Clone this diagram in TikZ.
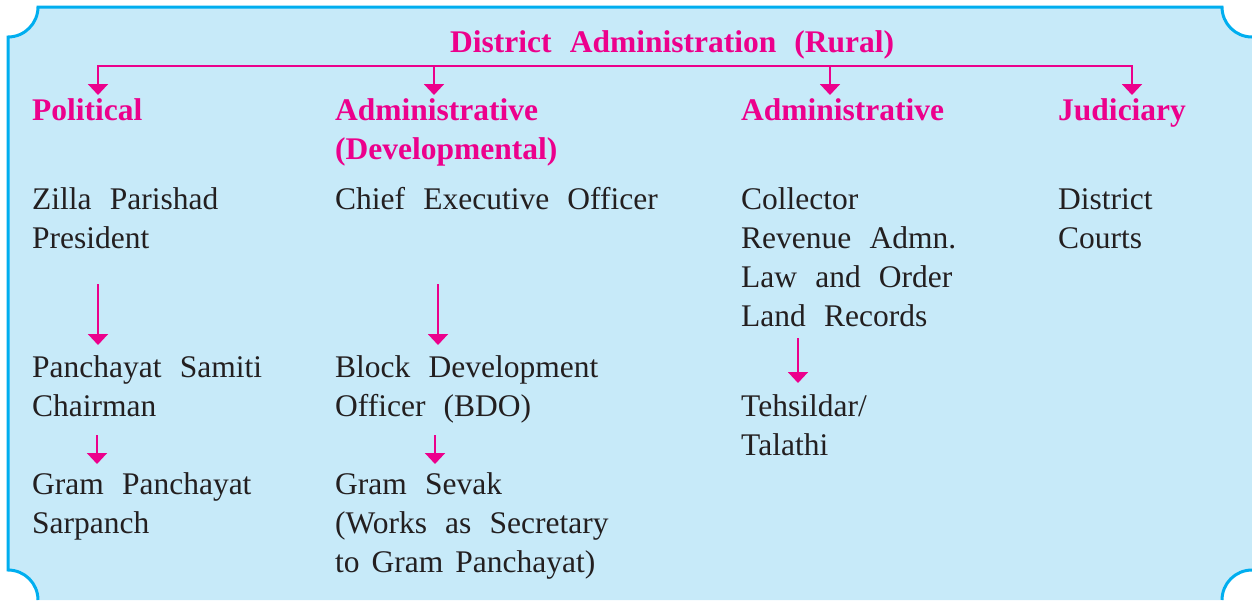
\documentclass[tikz,border=0pt]{standalone}
\usepackage{fontspec}
\setmainfont{Liberation Serif}[WordSpace=2.3]
\usetikzlibrary{arrows.meta}
\definecolor{bgblue}{HTML}{C7EAF9}
\definecolor{frameblue}{HTML}{00AEEF}
\definecolor{pinkc}{HTML}{EC008C}
\definecolor{ink}{HTML}{231F20}
\newcommand\blk[1]{\begin{tabular}[t]{@{}l@{}}#1\end{tabular}}
\tikzset{
  txt/.style={anchor=base west, inner sep=0pt, text=ink, font=\fontsize{31.5}{39}\selectfont},
  head/.style={anchor=base west, inner sep=0pt, text=pinkc, font=\fontsize{31.5}{39}\selectfont\bfseries},
  arr/.style={draw=pinkc, line width=2pt, -{Triangle[width=20pt,length=11pt]}},
  bus/.style={draw=pinkc, line width=2pt, {Triangle[width=20pt,length=11pt]}-{Triangle[width=20pt,length=11pt]}}
}
\begin{document}
\begin{tikzpicture}[x=1pt,y=-1pt]
\useasboundingbox (0,0) rectangle (1252,600);
\clip (0,0) rectangle (1252,600);
% frame
\fill[bgblue] (38,7) -- (1222,7) .. controls (1222,23.6) and (1235.4,37) .. (1252,37)
  -- (1252,570) .. controls (1235.4,570) and (1222,583.4) .. (1222,600)
  -- (38,600) .. controls (38,583.4) and (24.6,570) .. (8,570)
  -- (8,37) .. controls (24.6,37) and (38,23.4) .. (38,7) -- cycle;
\draw[frameblue, line width=3pt] (1252,37) .. controls (1235.4,37) and (1222,23.6) .. (1222,7)
  -- (38,7) .. controls (38,23.4) and (24.6,37) .. (8,37)
  -- (8,570) .. controls (24.6,570) and (38,583.4) .. (38,600);
\draw[frameblue, line width=3pt] (1252,570) .. controls (1235.4,570) and (1222,583.4) .. (1222,600);

% headings
\node[head] (title) at (450,52) {District Administration (Rural)};
\node[head] (pol) at (32,120) {Political};
\node[head] (dev) at (335,120) {\blk{Administrative\\(Developmental)}};
\node[head] (adm) at (741,120) {Administrative};
\node[head] (jud) at (1058,120) {Judiciary};

% body
\node[txt] (zp) at (32,209) {\blk{Zilla Parishad\\President}};
\node[txt] (ps) at (32,377) {\blk{Panchayat Samiti\\Chairman}};
\node[txt] (gp) at (32,494) {\blk{Gram Panchayat\\Sarpanch}};
\node[txt] (ceo) at (335,209) {Chief Executive Officer};
\node[txt] (bdo) at (335,377) {\blk{Block Development\\Officer (BDO)}};
\node[txt] (gs) at (335,494) {\blk{Gram Sevak\\(Works as Secretary\\{\spaceskip=12pt\relax to Gram Panchayat)}}};
\node[txt] (col) at (741,209) {\blk{Collector\\Revenue Admn.\\Law and Order\\Land Records}};
\node[txt] (teh) at (741,416) {\blk{Tehsildar/\\Talathi}};
\node[txt] (dc) at (1058,209) {\blk{District\\Courts}};

% bus
\draw[bus] ([shift={(66,-25)}]pol.base west) -- ([shift={(66,-54)}]pol.base west)
  -- ([shift={(74,-54)}]jud.base west) -- ([shift={(74,-25)}]jud.base west);
\draw[arr] ([shift={(99,-54)}]dev.base west) -- ([shift={(99,-25)}]dev.base west);
\draw[arr] ([shift={(89,-54)}]adm.base west) -- ([shift={(89,-25)}]adm.base west);

% column arrows
\draw[arr] ([shift={(66,75)}]zp.base west) -- ([shift={(66,-32)}]ps.base west);
\draw[arr] ([shift={(65,58)}]ps.base west) -- ([shift={(65,-30)}]gp.base west);
\draw[arr] ([shift={(103,75)}]ceo.base west) -- ([shift={(103,-32)}]bdo.base west);
\draw[arr] ([shift={(100,58)}]bdo.base west) -- ([shift={(100,-30)}]gs.base west);
\draw[arr] ([shift={(57,129)}]col.base west) -- ([shift={(57,-33)}]teh.base west);
\end{tikzpicture}
\end{document}
